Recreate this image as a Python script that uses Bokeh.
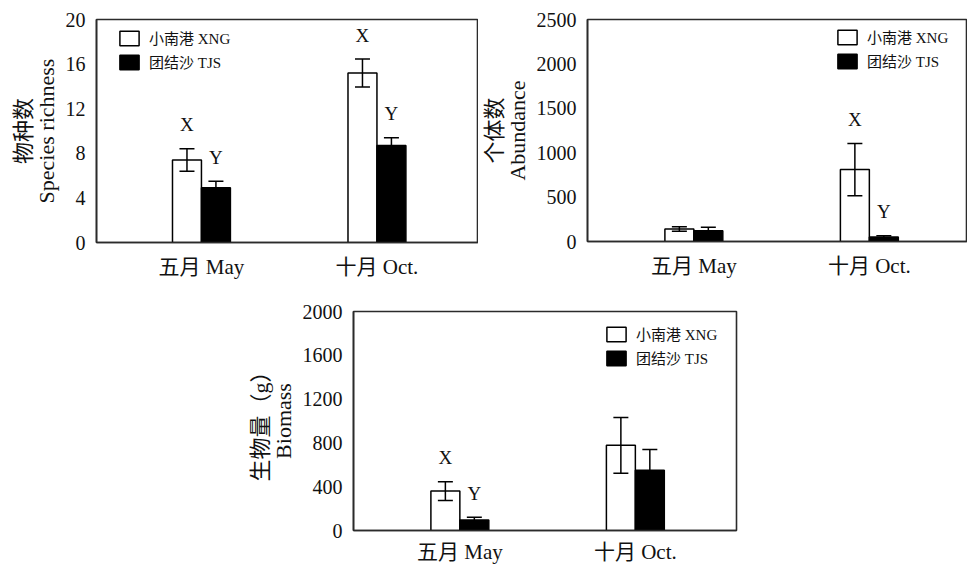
from bokeh.plotting import figure
from bokeh.models import (Range1d, FixedTicker, ColumnDataSource, Whisker, TeeHead,
                          Legend, LegendItem, Spacer)
from bokeh.layouts import column, row
from bokeh.embed import file_html
from bokeh.resources import INLINE
from bokeh.core.properties import value

# ---------------- data ----------------
months = ["五月 May", "十月 Oct."]
sites = ["小南港 XNG", "团结沙 TJS"]

richness_xng = [7.4, 15.2]
richness_xng_se = [1.0, 1.25]
richness_tjs = [4.9, 8.7]
richness_tjs_se = [0.6, 0.7]
richness_xng_sig = ["X", "X"]
richness_tjs_sig = ["Y", "Y"]
richness_ticks = [0, 4, 8, 12, 16, 20]

abundance_xng = [140, 810]
abundance_xng_se = [25, 295]
abundance_tjs = [120, 50]
abundance_tjs_se = [40, 15]
abundance_xng_sig = ["", "X"]
abundance_tjs_sig = ["", "Y"]
abundance_ticks = [0, 500, 1000, 1500, 2000, 2500]

biomass_xng = [360, 778]
biomass_xng_se = [85, 255]
biomass_tjs = [95, 550]
biomass_tjs_se = [25, 190]
biomass_xng_sig = ["X", ""]
biomass_tjs_sig = ["Y", ""]
biomass_ticks = [0, 400, 800, 1200, 1600, 2000]

# ---------------- style ----------------
FONT = "Liberation Serif, Noto Sans CJK SC"
LINE = "#2b2b2b"
BAR_W = 0.165
PX_PER_UNIT = 175.5


def panel(xng, xng_se, tjs, tjs_se, xng_sig, tjs_sig, ticks, ylabel,
          frame_w, frame_h, mb_left, mb_right, mb_top, mb_bottom, x_start,
          legend_xy, x_standoff=6):
    p = figure(frame_width=frame_w, frame_height=frame_h,
               output_backend="svg", toolbar_location=None,
               x_range=Range1d(x_start, x_start + frame_w / PX_PER_UNIT),
               y_range=Range1d(ticks[0], ticks[-1]),
               min_border_left=mb_left, min_border_right=mb_right,
               min_border_top=mb_top, min_border_bottom=mb_bottom)
    p.background_fill_color = "white"
    p.border_fill_color = "white"
    p.outline_line_color = LINE
    p.outline_line_width = 1.6
    p.outline_line_alpha = 1.0
    p.xgrid.visible = False
    p.ygrid.visible = False

    idx = list(range(len(months)))
    x_xng = [i - BAR_W / 2 for i in idx]
    x_tjs = [i + BAR_W / 2 for i in idx]

    r1 = p.vbar(x=x_xng, top=xng, width=BAR_W, bottom=0, fill_color="white",
                line_color="black", line_width=1.5)
    r2 = p.vbar(x=x_tjs, top=tjs, width=BAR_W, bottom=0, fill_color="black",
                line_color="black", line_width=1.5)

    for xs, m, se in ((x_xng, xng, xng_se), (x_tjs, tjs, tjs_se)):
        src = ColumnDataSource(dict(x=xs,
                                    upper=[a + b for a, b in zip(m, se)],
                                    lower=[a - b for a, b in zip(m, se)]))
        w = Whisker(base="x", upper="upper", lower="lower", source=src,
                    level="overlay", line_color="black", line_width=1.5,
                    upper_head=TeeHead(size=15, line_width=1.5, line_color="black"),
                    lower_head=TeeHead(size=15, line_width=1.5, line_color="black"))
        p.add_layout(w)

    for xs, m, se, sig in ((x_xng, xng, xng_se, xng_sig), (x_tjs, tjs, tjs_se, tjs_sig)):
        p.text(x=xs, y=[a + b for a, b in zip(m, se)], text=sig,
               text_align="center", text_baseline="middle", y_offset=-24,
               text_font=value("Liberation Serif"), text_font_size="19px",
               text_color="#111111")

    # axes
    p.xaxis.ticker = FixedTicker(ticks=idx)
    p.xaxis.major_label_overrides = {i: months[i] for i in idx}
    p.yaxis.ticker = FixedTicker(ticks=ticks)
    for ax in (p.xaxis, p.yaxis):
        ax.major_tick_line_color = None
        ax.minor_tick_line_color = None
        ax.axis_line_color = LINE
        ax.axis_line_width = 1.6
        ax.major_label_text_font = FONT
        ax.major_label_text_color = "#111111"
    p.xaxis.major_label_text_font_size = "21px"
    p.xaxis.major_label_standoff = x_standoff
    p.yaxis.major_label_text_font_size = "20px"
    p.yaxis.major_label_standoff = 5
    p.yaxis.axis_label = ylabel
    p.yaxis.axis_label_text_font = FONT
    p.yaxis.axis_label_text_font_size = "22px"
    p.yaxis.axis_label_text_font_style = "normal"
    p.yaxis.axis_label_text_color = "#111111"
    p.yaxis.axis_label_text_line_height = 0.9
    p.yaxis.axis_label_standoff = 4

    legend = Legend(items=[LegendItem(label=sites[0], renderers=[r1]),
                           LegendItem(label=sites[1], renderers=[r2])],
                    location=legend_xy, orientation="vertical",
                    label_text_font=FONT, label_text_font_size="15px",
                    label_text_color="#111111",
                    glyph_width=24, glyph_height=18, label_height=18,
                    label_standoff=8, spacing=3, padding=0, margin=0,
                    border_line_color=None, background_fill_alpha=0)
    p.add_layout(legend)
    return p


p1 = panel(richness_xng, richness_xng_se, richness_tjs, richness_tjs_se,
           richness_xng_sig, richness_tjs_sig, richness_ticks,
           "物种数\nSpecies richness",
           frame_w=382, frame_h=223, mb_left=96, mb_right=0, mb_top=18, mb_bottom=49,
           x_start=-0.598, legend_xy=(21, 170))

p2 = panel(abundance_xng, abundance_xng_se, abundance_tjs, abundance_tjs_se,
           abundance_xng_sig, abundance_tjs_sig, abundance_ticks,
           "个体数\nAbundance",
           frame_w=380, frame_h=222, mb_left=100, mb_right=0, mb_top=19, mb_bottom=49,
           x_start=-0.606, legend_xy=(248, 170))

p3 = panel(biomass_xng, biomass_xng_se, biomass_tjs, biomass_tjs_se,
           biomass_xng_sig, biomass_tjs_sig, biomass_ticks,
           "生物量（g）\nBiomass",
           frame_w=383, frame_h=219, mb_left=110, mb_right=8, mb_top=21, mb_bottom=38,
           x_start=-0.606, legend_xy=(251, 162), x_standoff=3)

layout = column(row(p1, p2), row(Spacer(width=243, height=278), p3))

open("out.html", "w").write(file_html(layout, INLINE))
